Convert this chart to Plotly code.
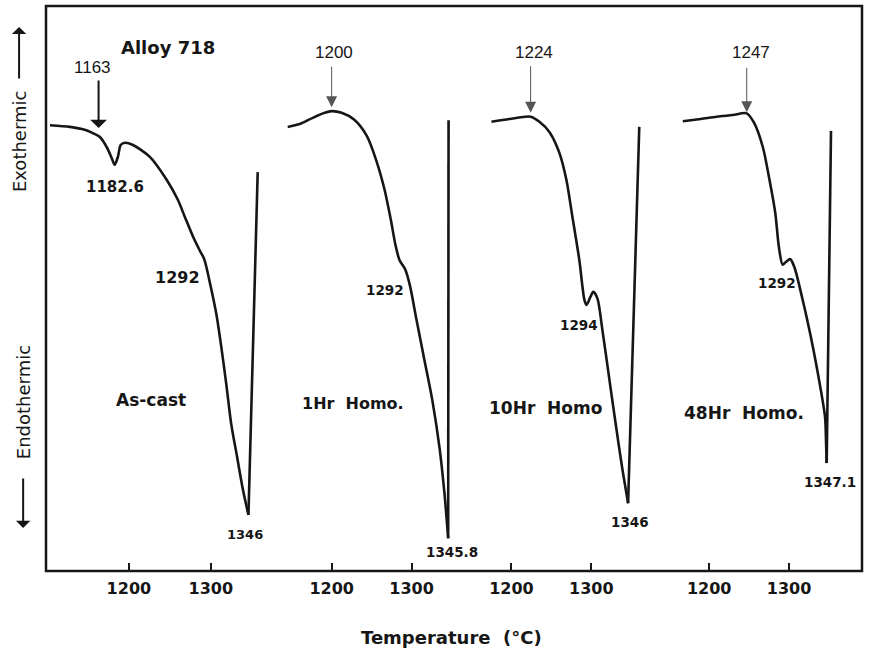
import plotly.graph_objects as go

# --- DTA traces of Alloy 718 (temperature in °C, signal in arbitrary units) ---
ascast_temp = [1103.7, 1128, 1146, 1156, 1164.6, 1173, 1179, 1182.6, 1186.6, 1190, 1195,
               1205, 1225.6, 1246.3, 1259.8, 1268, 1278, 1287, 1292, 1300, 1307, 1313,
               1319, 1325, 1332, 1339, 1346]
ascast_sig = [78.9, 78.6, 78.1, 77.5, 76.8, 75.0, 73.1, 71.9, 73.3, 75.4, 75.8,
              75.4, 73.3, 69.2, 65.7, 62.8, 59.3, 56.6, 55.2, 50.3, 45.3, 39.5,
              33.0, 26.0, 20.3, 14.6, 9.9]
ascast_spike = ([1346, 1357.3], [9.9, 70.6])

homo1_temp = [1145, 1160, 1176.3, 1191.3, 1200, 1212.5, 1228, 1244, 1256, 1266,
              1274, 1280, 1285, 1292, 1298, 1306, 1316, 1326, 1335, 1341, 1345.8]
homo1_sig = [78.6, 79.1, 80.2, 81.1, 81.4, 81.1, 79.9, 77.0, 72.6, 67.6,
             62.2, 57.6, 55.0, 53.4, 50.5, 44.6, 37.4, 30.2, 21.8, 14.0, 5.8]
homo1_spike = ([1345.8, 1346.3], [5.8, 79.8])

homo10_temp = [1175, 1197.5, 1224, 1235, 1247.5, 1260, 1268.8, 1276.3, 1285, 1291.3,
               1294, 1298.8, 1302.5, 1307.5, 1314, 1322, 1330, 1338, 1346]
homo10_sig = [79.5, 80.0, 80.4, 79.5, 77.7, 74.0, 69.2, 62.7, 55.0, 48.0,
              47.1, 48.5, 49.4, 48.3, 42.5, 34.5, 26.5, 18.8, 12.0]
homo10_spike = ([1346, 1360], [12.0, 78.6])

homo48_temp = [1167, 1189.5, 1209.5, 1229.5, 1247, 1256.3, 1267.2, 1274.9, 1282.7, 1287.3,
               1292, 1296, 1301.4, 1306.6, 1317, 1327.3, 1334.6, 1345, 1346.2, 1347.1]
homo48_sig = [79.6, 80.0, 80.4, 80.7, 81.0, 79.3, 75.0, 69.7, 63.4, 57.3,
              54.2, 54.7, 55.2, 53.8, 48.0, 41.4, 36.1, 27.3, 23.2, 19.1]
homo48_spike = ([1347.1, 1352.5], [19.1, 77.9])

tick_vals = [1200, 1300]
tick_text = ["1200", "1300"]

panels = [
    ("x", ascast_temp, ascast_sig, ascast_spike),
    ("x2", homo1_temp, homo1_sig, homo1_spike),
    ("x3", homo10_temp, homo10_sig, homo10_spike),
    ("x4", homo48_temp, homo48_sig, homo48_spike),
]

INK = "#161616"
fig = go.Figure()
for xa, t, s, spike in panels:
    fig.add_trace(go.Scatter(x=t, y=s, xaxis=xa, yaxis="y", mode="lines",
                             line=dict(color=INK, width=2.6, shape="spline", smoothing=0.8),
                             hoverinfo="skip", showlegend=False))
    fig.add_trace(go.Scatter(x=spike[0], y=spike[1], xaxis=xa, yaxis="y", mode="lines",
                             line=dict(color=INK, width=2.6),
                             hoverinfo="skip", showlegend=False))

tick_font = dict(family="DejaVu Sans", size=16, color=INK, weight="bold")
axis_common = dict(tickvals=tick_vals, ticktext=tick_text, ticks="inside", ticklen=8,
                   tickwidth=1.6, tickcolor=INK, showgrid=False, zeroline=False,
                   showline=False, tickfont=tick_font, anchor="y", ticklabelstandoff=6)

fig.update_layout(
    width=869, height=648,
    margin=dict(l=46, r=7, t=6, b=77),
    paper_bgcolor="white", plot_bgcolor="white",
    xaxis=dict(domain=[0.0, 0.2766], range=[1098.8, 1374.4], **axis_common),
    xaxis2=dict(domain=[0.2766, 0.5190], range=[1125.0, 1372.5], **axis_common),
    xaxis3=dict(domain=[0.5190, 0.7577], range=[1147.5, 1391.3], **axis_common),
    xaxis4=dict(domain=[0.7577, 1.0], range=[1143.8, 1391.3], **axis_common),
    yaxis=dict(range=[0, 100], visible=False, fixedrange=True),
    showlegend=False,
)

# plot frame
fig.add_shape(type="rect", xref="paper", yref="paper", x0=0, x1=1, y0=0, y1=1,
              line=dict(color=INK, width=2.5))

bold = lambda size: dict(family="DejaVu Sans", size=size, color=INK, weight="bold")
plain = dict(family="Liberation Sans", size=17, color=INK)

labels = [
    ("x", 1247.6, 92.6, "Alloy 718", bold(18)),
    ("x", 1156.1, 89.2, "1163", plain),
    ("x", 1182.9, 68.0, "1182.6", bold(15)),
    ("x", 1259.8, 51.9, "1292", bold(16)),
    ("x", 1226.8, 30.3, "As-cast", bold(17)),
    ("x", 1341.5, 6.4, "1346", bold(13)),
    ("x2", 1202.5, 91.7, "1200", plain),
    ("x2", 1266.3, 49.7, "1292", bold(13.5)),
    ("x2", 1226.3, 29.7, "1Hr  Homo.", bold(16)),
    ("x2", 1350.0, 3.4, "1345.8", bold(13.5)),
    ("x3", 1228.8, 91.7, "1224", plain),
    ("x3", 1285.0, 43.5, "1294", bold(13.5)),
    ("x3", 1242.5, 28.8, "10Hr  Homo", bold(17)),
    ("x3", 1348.8, 8.7, "1346", bold(13.5)),
    ("x4", 1252.5, 91.7, "1247", plain),
    ("x4", 1285.0, 51.0, "1292", bold(13.5)),
    ("x4", 1243.8, 28.0, "48Hr  Homo.", bold(17)),
    ("x4", 1351.3, 15.8, "1347.1", bold(13.5)),
]
for xa, x, y, text, font in labels:
    fig.add_annotation(xref=xa, yref="y", x=x, y=y, text=text, showarrow=False,
                       font=font, xanchor="center", yanchor="middle")

# onset arrows (temperature, signal at tip, tail offset in px, style)
onsets = [
    ("x", 1163, 78.4, -49, 2.0, INK, 1),
    ("x2", 1200, 82.1, -42, 1.0, "#555555", 2),
    ("x3", 1224, 81.1, -48, 1.0, "#555555", 2),
    ("x4", 1247, 81.2, -46, 1.0, "#555555", 2),
]
for xa, x, y, ay, w, c, head in onsets:
    fig.add_annotation(xref=xa, yref="y", x=x, y=y, ax=0, ay=ay, text="",
                       showarrow=True, arrowhead=head, arrowsize=1.4 if head == 1 else 2.2,
                       arrowwidth=w, arrowcolor=c)

# side labels with direction arrows
side = dict(family="DejaVu Sans", size=18, color=INK)
fig.add_annotation(xref="paper", yref="paper", x=-0.033, y=0.761, text="Exothermic",
                   textangle=-90, showarrow=False, font=side,
                   xanchor="center", yanchor="middle")
fig.add_annotation(xref="paper", yref="paper", x=-0.028, y=0.299, text="Endothermic",
                   textangle=-90, showarrow=False, font=side,
                   xanchor="center", yanchor="middle")
fig.add_annotation(xref="paper", yref="paper", x=-0.033, y=0.963, ax=0, ay=53, text="",
                   showarrow=True, arrowhead=1, arrowsize=1.2, arrowwidth=2, arrowcolor=INK)
fig.add_annotation(xref="paper", yref="paper", x=-0.028, y=0.076, ax=0, ay=-51, text="",
                   showarrow=True, arrowhead=1, arrowsize=1.2, arrowwidth=2, arrowcolor=INK)

fig.add_annotation(xref="paper", yref="paper", x=0.497, y=-0.117, text="Temperature  (°C)",
                   showarrow=False, font=bold(18), xanchor="center", yanchor="middle")

fig.write_html("out.html")
